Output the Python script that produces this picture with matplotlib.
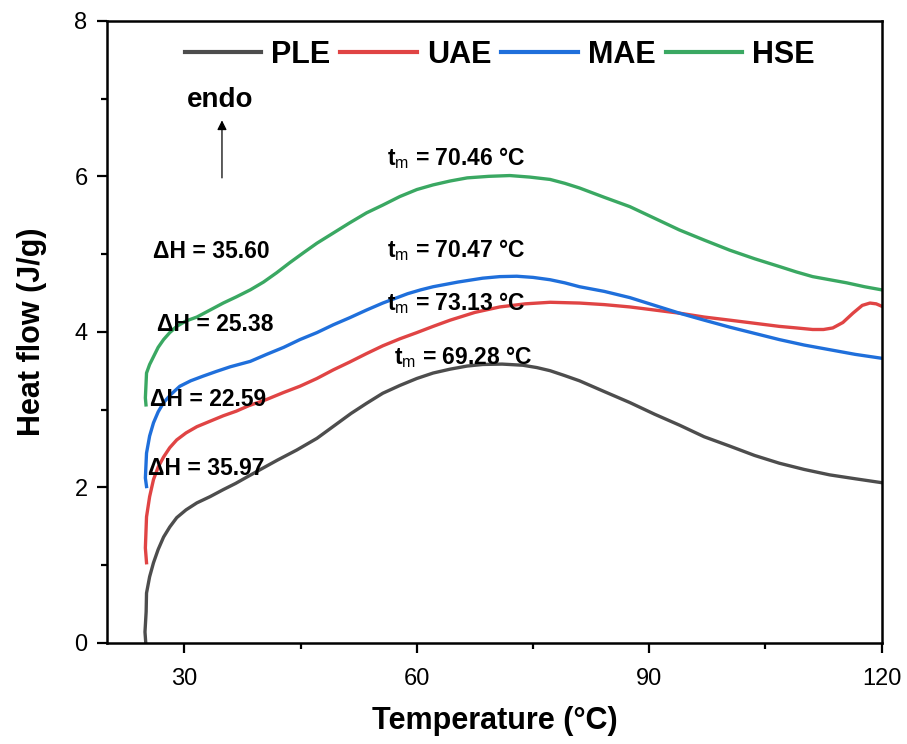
import matplotlib
matplotlib.use("Agg")
import matplotlib.pyplot as plt

plt.rcParams["font.family"] = ["Liberation Sans", "DejaVu Sans"]
plt.rcParams["mathtext.fontset"] = "custom"
plt.rcParams["mathtext.rm"] = "Liberation Sans"
plt.rcParams["mathtext.bf"] = "Liberation Sans:bold"
plt.rcParams["mathtext.it"] = "Liberation Sans:italic"

# data
ple_t = [25.0, 24.9, 25.05, 25.1, 25.5, 26.0, 26.6, 27.3, 28.1, 29.0, 30.2, 31.6, 33.3, 35.0,
         36.6, 38.2, 40.0, 42.0, 44.5, 47.1, 49.3, 51.5, 53.5, 55.6, 57.8, 60.0, 62.1, 64.3,
         66.5, 68.5, 71.0, 73.7, 75.5, 77.2, 79.0, 81.0, 84.0, 87.5, 90.7, 93.9, 97.1, 100.4,
         103.6, 106.8, 110.0, 113.3, 116.6, 120.0]
ple_h = [0.00, 0.14, 0.40, 0.64, 0.85, 1.03, 1.20, 1.36, 1.49, 1.61, 1.71, 1.80, 1.88, 1.97,
         2.05, 2.14, 2.24, 2.35, 2.48, 2.63, 2.79, 2.95, 3.08, 3.21, 3.31, 3.40, 3.47, 3.52,
         3.56, 3.58, 3.585, 3.57, 3.54, 3.50, 3.44, 3.37, 3.24, 3.09, 2.94, 2.80, 2.65, 2.53,
         2.41, 2.31, 2.23, 2.16, 2.11, 2.06]

uae_t = [25.1, 24.95, 25.1, 25.5, 26.0, 26.6, 27.3, 28.1, 29.0, 30.2, 31.6, 33.3, 35.0, 36.7,
         38.3, 40.6, 42.8, 44.9, 47.1, 49.2, 51.3, 53.5, 55.6, 57.8, 60.0, 62.1, 64.3, 67.5,
         70.7, 74.0, 77.2, 81.0, 84.2, 87.5, 90.7, 93.9, 97.1, 100.4, 103.6, 106.8, 109.0,
         111.1, 112.5, 113.7, 115.0, 116.3, 117.5, 118.5, 119.3, 120.0]
uae_h = [1.03, 1.22, 1.62, 1.88, 2.10, 2.26, 2.39, 2.51, 2.61, 2.70, 2.78, 2.85, 2.92, 2.98,
         3.05, 3.13, 3.22, 3.30, 3.40, 3.51, 3.61, 3.72, 3.82, 3.91, 3.99, 4.07, 4.15, 4.25,
         4.32, 4.36, 4.38, 4.37, 4.35, 4.32, 4.28, 4.24, 4.19, 4.15, 4.11, 4.07, 4.05,
         4.03, 4.03, 4.05, 4.12, 4.24, 4.34, 4.37, 4.36, 4.33]

mae_t = [25.1, 24.95, 25.1, 25.5, 26.0, 26.6, 27.3, 28.3, 29.4, 30.8, 32.4, 34.1, 35.9, 38.5,
         40.6, 42.8, 44.9, 47.1, 49.2, 51.3, 53.5, 55.6, 57.2, 58.8, 60.5, 62.1, 65.3, 68.5,
         70.7, 72.9, 75.0, 77.2, 79.1, 81.0, 84.2, 87.5, 90.7, 93.9, 97.1, 100.4, 103.6, 106.8,
         110.0, 113.3, 116.6, 120.0]
mae_h = [2.01, 2.12, 2.44, 2.66, 2.83, 2.97, 3.09, 3.20, 3.30, 3.37, 3.43, 3.49, 3.55, 3.62,
         3.71, 3.80, 3.90, 3.99, 4.09, 4.18, 4.28, 4.37, 4.43, 4.49, 4.54, 4.58, 4.64, 4.69,
         4.71, 4.715, 4.70, 4.67, 4.63, 4.58, 4.52, 4.44, 4.34, 4.24, 4.15, 4.06, 3.98, 3.90,
         3.83, 3.77, 3.71, 3.66]

hse_t = [25.03, 24.95, 25.1, 25.5, 26.0, 26.6, 27.3, 28.1, 29.0, 30.2, 31.6, 33.3, 35.0, 36.7,
         38.5, 40.2, 41.9, 43.6, 45.4, 47.1, 49.2, 51.3, 53.5, 55.6, 57.8, 60.0, 62.1, 64.3,
         66.5, 69.3, 72.0, 74.6, 77.2, 79.1, 81.0, 84.2, 87.5, 90.7, 93.9, 97.1, 100.4, 103.6,
         106.8, 109.0, 111.1, 113.3, 115.5, 117.8, 120.0]
hse_h = [3.06, 3.15, 3.47, 3.58, 3.68, 3.80, 3.90, 3.99, 4.07, 4.14, 4.19, 4.28, 4.37, 4.45,
         4.54, 4.64, 4.76, 4.89, 5.02, 5.14, 5.27, 5.40, 5.53, 5.63, 5.74, 5.83, 5.89, 5.94,
         5.98, 6.00, 6.01, 5.99, 5.96, 5.91, 5.85, 5.73, 5.61, 5.46, 5.31, 5.18, 5.05, 4.94,
         4.84, 4.77, 4.71, 4.67, 4.63, 4.58, 4.54]

names = ["PLE", "UAE", "MAE", "HSE"]
colors = ["#4d4d4d", "#e04444", "#1f6fdb", "#3aa862"]

dh_labels = ["ΔH = 35.60", "ΔH = 25.38", "ΔH = 22.59", "ΔH = 35.97"]
dh_pos = [(25.9, 5.03), (26.4, 4.09), (25.6, 3.13), (25.3, 2.24)]
tm_labels = ["70.46", "70.47", "73.13", "69.28"]
tm_pos = [(56.1, 6.24), (56.1, 5.05), (56.1, 4.37), (57.1, 3.68)]

fig = plt.figure(figsize=(9.07, 7.44), dpi=100)
ax = fig.add_axes([0.118, 0.136, 0.854, 0.836])

series = [(ple_t, ple_h), (uae_t, uae_h), (mae_t, mae_h), (hse_t, hse_h)]
for (t, h), name, c in zip(series, names, colors):
    ax.plot(t, h, color=c, lw=2.4, label=name, solid_joinstyle="round")

for txt, (x, y) in zip(dh_labels, dh_pos):
    ax.text(x, y, txt, fontsize=16.5, fontweight="bold", ha="left", va="center")
for txt, (x, y) in zip(tm_labels, tm_pos):
    ax.text(x, y, r"$\mathbf{t}_\mathrm{m}$ = " + txt + " °C", fontsize=16.5,
            fontweight="bold", ha="left", va="center")

ax.text(34.6, 6.98, "endo", fontsize=20, fontweight="bold", ha="center", va="center")
ax.annotate("", xy=(34.84, 6.72), xytext=(34.84, 5.98),
            arrowprops=dict(arrowstyle="-|>", color="black", lw=0.9,
                            mutation_scale=14, shrinkA=0, shrinkB=0))

ax.set_xlim(20, 120)
ax.set_ylim(0, 8)
ax.set_xticks([30, 60, 90, 120])
ax.set_xticks([45, 75, 105], minor=True)
ax.set_yticks([0, 2, 4, 6, 8])
ax.set_yticks([1, 3, 5, 7], minor=True)
ax.tick_params(which="major", direction="out", length=7, width=1.6, labelsize=17, pad=7)
ax.tick_params(axis="x", which="major", pad=11)
ax.tick_params(which="minor", direction="out", length=4, width=1.6)
for s in ax.spines.values():
    s.set_linewidth(1.8)

ax.set_xlabel("Temperature (°C)", fontsize=22, fontweight="bold")
ax.set_ylabel("Heat flow (J/g)", fontsize=22, fontweight="bold")
ax.xaxis.set_label_coords(0.5, -0.102)
ax.yaxis.set_label_coords(-0.077, 0.5)

leg = ax.legend(loc="center", bbox_to_anchor=(0.507, 0.945), ncol=4, frameon=False,
                prop={"size": 22, "weight": "bold"}, handlelength=2.5,
                handletextpad=0.33, columnspacing=0.33)
for line in leg.get_lines():
    line.set_linewidth(3)

fig.savefig("out.png", dpi=100)
